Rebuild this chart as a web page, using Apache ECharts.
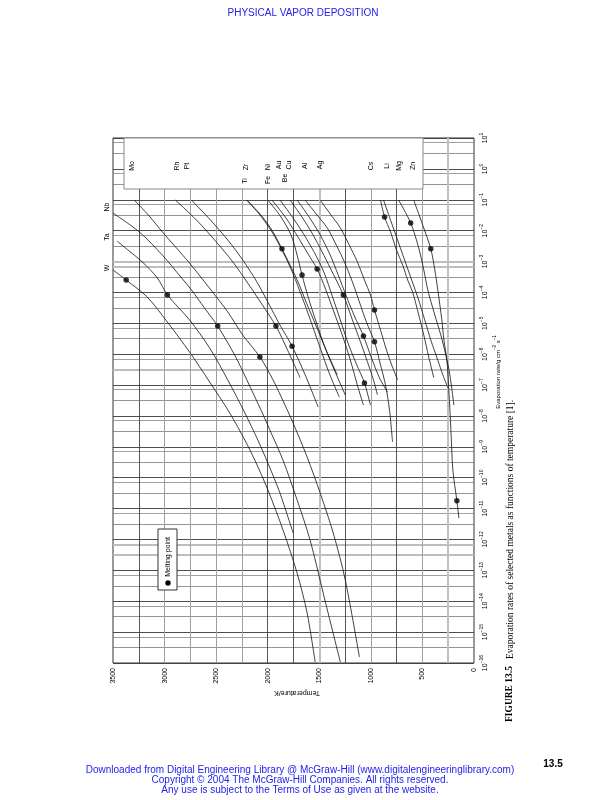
<!DOCTYPE html>
<html><head><meta charset="utf-8">
<script src="https://cdn.jsdelivr.net/npm/echarts@6/dist/echarts.min.js"></script>
<style>html,body{margin:0;padding:0;background:#fff}#c{width:604px;height:800px}</style>
</head><body><div id="c"></div>
<script>
const FONT = '"Liberation Sans", Arial, Helvetica, sans-serif';
const SERIF = '"Liberation Serif", "Times New Roman", serif';

// Temperature in K, evaporation rate as log10 (g cm^-2 s^-1)
const T_W  = [3500, 3372, 3168, 2973, 2758, 2563, 2369, 2222, 2125, 1998, 1852, 1715, 1618, 1540];
const E_W  = [-3.27, -3.60, -4.15, -4.96, -5.93, -6.90, -7.90, -8.78, -9.43, -10.40, -11.69, -13.09, -14.38, -15.97];
const T_Ta = [3460, 3343, 3217, 3070, 2973, 2758, 2563, 2388, 2222, 2096, 1998, 1881, 1754];
const E_Ta = [-2.34, -2.66, -3.01, -3.53, -4.08, -4.89, -5.80, -6.83, -7.90, -8.78, -9.53, -10.50, -11.79];
const T_Nb = [3500, 3246, 3022, 2836, 2739, 2612, 2485, 2320, 2203, 2057, 1959, 1852, 1715, 1589, 1462, 1296];
const E_Nb = [-1.43, -2.04, -2.79, -3.53, -3.92, -4.51, -5.09, -6.03, -6.83, -7.87, -8.61, -9.43, -10.72, -12.02, -13.74, -15.97];
const T_Mo = [3294, 3148, 3022, 2885, 2758, 2612, 2534, 2388, 2242, 2076, 1949, 1832, 1754, 1618, 1491, 1365, 1248, 1111];
const E_Mo = [-1.01, -1.53, -2.04, -2.56, -3.05, -3.66, -3.99, -4.63, -5.38, -6.09, -6.83, -7.65, -8.23, -9.33, -10.50, -11.79, -13.31, -15.81];
const T_Rh = [2895, 2690, 2505, 2339, 2193, 2057, 1920, 1803, 1686];
const E_Rh = [-1.01, -1.66, -2.34, -3.01, -3.70, -4.38, -5.09, -5.90, -6.76];
const T_Pt = [2739, 2554, 2388, 2242, 2105, 1988, 1881, 1764, 1637, 1511];
const E_Pt = [-1.01, -1.66, -2.30, -2.95, -3.66, -4.38, -5.06, -5.74, -6.67, -7.71];
const T_Ti = [2203, 2057, 1949, 1862, 1784, 1706, 1628, 1530, 1433, 1326];
const E_Ti = [-1.01, -1.53, -2.04, -2.59, -3.11, -3.66, -4.31, -5.09, -5.87, -6.67];
const T_Zr = [2203, 2076, 1959, 1852, 1754, 1667, 1579, 1491, 1404, 1306];
const E_Zr = [-1.01, -1.49, -2.04, -2.69, -3.40, -4.15, -4.96, -5.80, -6.61, -7.39];
const T_Fe = [1998, 1871, 1774, 1715, 1667, 1608, 1530, 1443, 1345, 1248];
const E_Fe = [-1.01, -1.56, -2.14, -2.79, -3.44, -4.15, -4.96, -5.80, -6.58, -7.32];
const T_Ni = [1959, 1823, 1706, 1608, 1521, 1443, 1365, 1277, 1199, 1131, 1072];
const E_Ni = [-1.01, -1.59, -2.21, -2.76, -3.24, -3.86, -4.57, -5.38, -6.19, -7.00, -7.65];
const T_Au = [1881, 1754, 1628, 1530, 1452, 1374, 1296, 1218, 1140, 1062, 1004];
const E_Au = [-1.01, -1.59, -2.24, -2.82, -3.37, -4.12, -4.89, -5.67, -6.32, -6.93, -7.65];
const T_Be = [1784, 1667, 1560, 1472, 1394, 1267, 1179, 1101, 1033, 975, 936];
const E_Be = [-1.01, -1.56, -2.14, -2.69, -3.21, -4.08, -4.89, -5.60, -6.25, -6.83, -7.32];
const T_Cu = [1715, 1598, 1491, 1394, 1316, 1238, 1160, 1072, 994, 916, 838];
const E_Cu = [-1.01, -1.56, -2.14, -2.79, -3.44, -4.12, -4.76, -5.41, -6.12, -6.77, -7.23];
const T_Al = [1637, 1530, 1423, 1335, 1257, 1179, 1111, 1043, 965, 906, 858, 819, 790];
const E_Al = [-1.01, -1.46, -1.91, -2.47, -3.01, -3.66, -4.31, -4.96, -5.60, -6.35, -7.00, -7.81, -8.84];
const T_Ag = [1491, 1394, 1296, 1209, 1131, 1062, 1004, 965, 906, 848, 790, 741];
const E_Ag = [-1.01, -1.46, -1.91, -2.47, -3.01, -3.60, -4.08, -4.57, -5.22, -5.87, -6.42, -6.83];
const T_Mg = [906, 867, 809, 751, 692, 643, 595, 536, 487, 439, 390];
const E_Mg = [-1.01, -1.56, -2.04, -2.63, -3.11, -3.60, -3.99, -4.73, -5.38, -6.09, -6.76];
const T_Li = [877, 809, 741, 673, 604, 536, 478, 419, 351, 302, 253];
const E_Li = [-1.01, -1.66, -2.30, -2.95, -3.60, -4.25, -4.89, -5.54, -6.19, -6.67, -7.09];
const T_Zn = [731, 614, 536, 487, 448, 380, 322, 273, 234, 195];
const E_Zn = [-1.01, -1.75, -2.56, -3.27, -3.92, -4.73, -5.38, -6.03, -6.67, -7.65];
const T_Cs = [585, 497, 419, 380, 351, 312, 292, 263, 244, 224, 205, 166, 146];
const E_Cs = [-1.01, -1.82, -2.59, -3.27, -3.92, -4.89, -5.54, -6.19, -7.16, -8.45, -9.75, -10.75, -11.31];

// Melting points
const meltT = [3372, 2973, 2485, 2076, 1920, 1862, 1764, 1667, 1521, 1267, 1072, 1062, 965, 965, 867, 614, 419, 166];
const meltE = [-3.60, -4.08, -5.09, -6.09, -5.09, -2.59, -5.74, -3.44, -3.24, -4.08, -5.41, -6.93, -4.57, -5.60, -1.56, -1.75, -2.59, -10.75];

const curves = [
  ['W', T_W, E_W], ['Ta', T_Ta, E_Ta], ['Nb', T_Nb, E_Nb], ['Mo', T_Mo, E_Mo],
  ['Rh', T_Rh, E_Rh], ['Pt', T_Pt, E_Pt], ['Ti', T_Ti, E_Ti], ['Zr', T_Zr, E_Zr],
  ['Fe', T_Fe, E_Fe], ['Ni', T_Ni, E_Ni], ['Au', T_Au, E_Au], ['Be', T_Be, E_Be],
  ['Cu', T_Cu, E_Cu], ['Al', T_Al, E_Al], ['Ag', T_Ag, E_Ag], ['Mg', T_Mg, E_Mg],
  ['Li', T_Li, E_Li], ['Zn', T_Zn, E_Zn], ['Cs', T_Cs, E_Cs]
];

const T_MIN = 0, T_MAX = 3500, E_MIN = -16, E_MAX = 1;

// grid lines
const hLines = [];
for (let n = E_MAX; n >= E_MIN; n--) {
  hLines.push({ yAxis: n, lineStyle: { color: '#3a3a3a', width: 0.9, type: 'solid' } });
  if (n - 0.15 >= E_MIN) hLines.push({ yAxis: n - 0.15, lineStyle: { color: '#777', width: 0.7, type: 'solid' } });
  if (n - 0.5 >= E_MIN) hLines.push({ yAxis: n - 0.5, lineStyle: { color: '#666', width: 0.7, type: 'solid' } });
}
[-3.0, -3.18, -6.51, -12.18, -12.5].forEach(v => hLines.push({ yAxis: v, lineStyle: { color: '#bdbdbd', width: 2, type: 'solid' } }));

const vStyle = { d: { color: '#444', width: 0.9 }, g: { color: '#a0a0a0', width: 1 }, t: { color: '#c0c0c0', width: 2 } };
const vKinds = { 250: 't', 500: 'g', 750: 'd', 1000: 'g', 1250: 'd', 1500: 't', 1750: 'd', 2000: 'd', 2250: 'g', 2500: 'g', 2750: 'g', 3000: 'g', 3250: 'd' };
const vLines = Object.keys(vKinds).map(k => ({ xAxis: +k, lineStyle: Object.assign({ type: 'solid' }, vStyle[vKinds[k]]) }));

const series = curves.map(([name, T, E]) => ({
  name, type: 'line', data: T.map((t, i) => [t, E[i]]),
  showSymbol: false, smooth: 0.3, silent: true, z: 5,
  lineStyle: { color: '#111', width: 0.8 }
}));
series.push({
  name: 'Melting point', type: 'scatter', data: meltT.map((t, i) => [t, meltE[i]]),
  symbol: 'circle', symbolSize: 5.5, itemStyle: { color: '#000' }, z: 6, silent: true
});
series.push({
  type: 'line', data: [], silent: true, z: 1,
  markLine: { silent: true, symbol: ['none', 'none'], label: { show: false }, animation: false,
    data: hLines.concat(vLines) }
});

function rotText(x, y, text, opts) {
  opts = opts || {};
  return {
    type: 'text', x, y, rotation: opts.rot === undefined ? Math.PI / 2 : opts.rot, z: 120,
    style: Object.assign({ text, x: 0, y: 0, fill: opts.fill || '#000', font: (opts.font || ('7px ' + FONT)),
      textAlign: opts.align || 'center', textVerticalAlign: 'middle' }, opts.style || {})
  };
}

const elemLabels = [
  ['Mo', 132, 166], ['Rh', 177, 166], ['Pt', 187, 166], ['Zr', 246, 167], ['Ti', 245, 181],
  ['Ni', 268, 167], ['Fe', 268, 180], ['Au', 279, 165], ['Be', 285, 178], ['Cu', 289, 165],
  ['Al', 305, 166], ['Ag', 320, 165], ['Cs', 371, 166], ['Li', 387, 166], ['Mg', 399, 166],
  ['Zn', 413, 166], ['W', 107, 268], ['Ta', 107, 237], ['Nb', 107, 207]
];

const graphic = [
  { type: 'rect', shape: { x: 124, y: 138, width: 299, height: 51 }, z: 100,
    style: { fill: '#fff', stroke: '#888', lineWidth: 1 } },
  { type: 'rect', shape: { x: 158, y: 529, width: 19, height: 61 }, z: 100,
    style: { fill: '#fff', stroke: '#333', lineWidth: 1 } },
  { type: 'circle', shape: { cx: 168, cy: 583, r: 2.7 }, z: 110, style: { fill: '#000' } },
  rotText(168, 557, 'Melting point'),
  rotText(297, 693, 'Temperature/K', { rot: Math.PI }),
  { type: 'text', x: 497, y: 372, rotation: Math.PI / 2, z: 120,
    style: { text: '{a|Evaporation rate/g cm}{s|−2}{a| s}{s|−1}', x: 0, y: 0, textAlign: 'center', textVerticalAlign: 'middle',
      rich: { a: { fontSize: 6, fontFamily: FONT, fill: '#000', lineHeight: 9, verticalAlign: 'bottom' },
              s: { fontSize: 4.5, fontFamily: FONT, fill: '#000', lineHeight: 9, verticalAlign: 'top' } } } },
  { type: 'text', x: 510, y: 722, rotation: Math.PI / 2, z: 120,
    style: { text: '{b|FIGURE 13.5}{n|   Evaporation rates of selected metals as functions of temperature [1].}', x: 0, y: 0,
      textAlign: 'left', textVerticalAlign: 'middle',
      rich: { b: { fontSize: 9.5, fontWeight: 'bold', fontFamily: SERIF, fill: '#000' },
              n: { fontSize: 9.5, fontFamily: SERIF, fill: '#000' } } } },
  { type: 'text', x: 303, y: 13, z: 120, style: { text: 'PHYSICAL VAPOR DEPOSITION', fill: '#2222ee', font: '10px ' + FONT, textAlign: 'center', textVerticalAlign: 'middle' } },
  { type: 'text', x: 300, y: 770, z: 120, style: { text: 'Downloaded from Digital Engineering Library @ McGraw-Hill (www.digitalengineeringlibrary.com)', fill: '#2222ee', font: '10px ' + FONT, textAlign: 'center', textVerticalAlign: 'middle' } },
  { type: 'text', x: 300, y: 780, z: 120, style: { text: 'Copyright © 2004 The McGraw-Hill Companies. All rights reserved.', fill: '#2222ee', font: '10px ' + FONT, textAlign: 'center', textVerticalAlign: 'middle' } },
  { type: 'text', x: 300, y: 790, z: 120, style: { text: 'Any use is subject to the Terms of Use as given at the website.', fill: '#2222ee', font: '10px ' + FONT, textAlign: 'center', textVerticalAlign: 'middle' } },
  { type: 'text', x: 553, y: 764, z: 120, style: { text: '13.5', fill: '#000', font: 'bold 10px ' + FONT, textAlign: 'center', textVerticalAlign: 'middle' } }
].concat(elemLabels.map(([t, x, y]) => rotText(x, y, t)));

const chart = echarts.init(document.getElementById('c'), null, { renderer: 'canvas' });
chart.setOption({
  animation: false,
  backgroundColor: '#fff',
  grid: { left: 113, right: 130, top: 138, bottom: 137, show: true, borderColor: '#333', borderWidth: 1, backgroundColor: 'transparent' },
  xAxis: {
    type: 'value', min: T_MIN, max: T_MAX, interval: 500, inverse: true,
    axisLine: { show: false }, axisTick: { show: false }, splitLine: { show: false },
    axisLabel: { rotate: 90, fontSize: 7, fontFamily: FONT, color: '#000', margin: 5, formatter: v => String(v) }
  },
  yAxis: {
    type: 'value', min: E_MIN, max: E_MAX, interval: 1, position: 'right',
    axisLine: { show: false }, axisTick: { show: false }, splitLine: { show: false },
    axisLabel: {
      rotate: 90, margin: 5, color: '#000',
      formatter: v => '{b|10}{s|' + (v < 0 ? '−' + (-v) : v) + '}',
      rich: { b: { fontSize: 7, fontFamily: FONT, color: '#000', lineHeight: 10, verticalAlign: 'bottom' },
              s: { fontSize: 5, fontFamily: FONT, color: '#000', lineHeight: 10, verticalAlign: 'top' } }
    }
  },
  series,
  graphic
});
</script></body></html>
